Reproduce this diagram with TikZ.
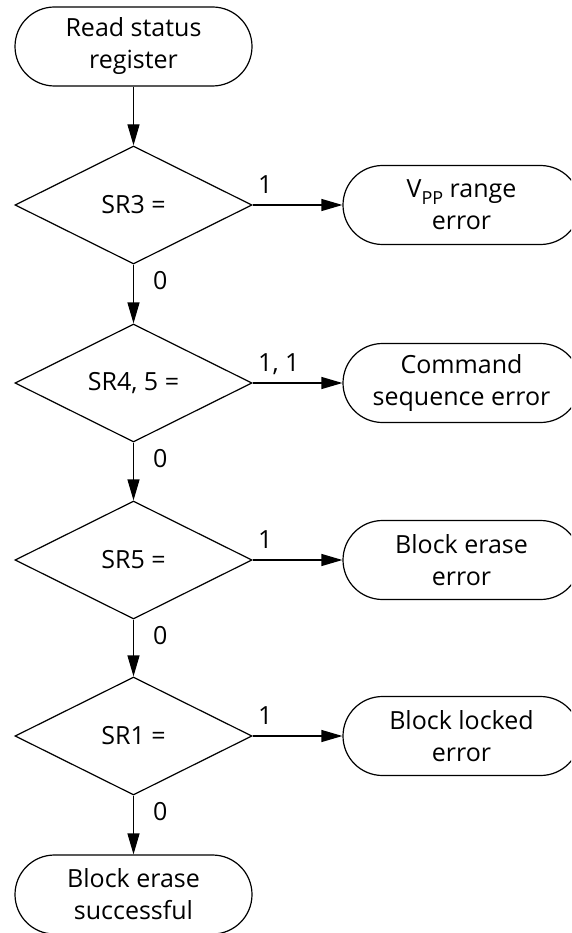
\documentclass[tikz,border=0pt]{standalone}
\usepackage{fontspec}
\setmainfont{Open Sans}
\usetikzlibrary{shapes.geometric,arrows.meta}
\begin{document}
\begin{tikzpicture}[x=1pt,y=-1pt,
  every node/.style={font=\fontsize{25}{32}\selectfont},
  term/.style={draw, line width=1.2pt, rectangle, rounded corners=39.5pt,
    minimum width=237pt, minimum height=79pt, align=center, inner sep=0pt},
  dec/.style={draw, line width=1.2pt, diamond, minimum width=237pt,
    minimum height=118pt, inner sep=0pt},
  arr/.style={line width=1.2pt, -{Triangle[length=21pt,width=12pt]}},
  zlbl/.style={inner sep=0pt, anchor=base west, xshift=19pt, yshift=-24.5pt},
  olbl/.style={inner sep=0pt, anchor=base west, xshift=5pt, yshift=11.5pt}
]
\clip (0,0) rectangle (571,933);
% left column
\node[term] (start) at (133.5,46.5) {Read status\\register};
\node[dec] (d1) at (133.5,205) {SR3 =};
\node[dec] (d2) at (133.5,383) {SR4, 5 =};
\node[dec] (d3) at (133.5,560) {SR5 =};
\node[dec] (d4) at (133.5,736) {SR1 =};
\node[term] (ok) at (133.5,894.5) {Block erase\\successful};
% right column
\node[term] (e1) at (461.5,205) {V\raisebox{-7pt}{\fontsize{18}{18}\selectfont PP} range\\error};
\node[term] (e2) at (461.5,383) {Command\\sequence error};
\node[term] (e3) at (461.5,560) {Block erase\\error};
\node[term] (e4) at (461.5,736) {Block locked\\error};
% vertical flow
\draw[arr] (start.south) -- (d1.north);
\draw[arr] (d1.south) -- node[at start, zlbl] {0} (d2.north);
\draw[arr] (d2.south) -- node[at start, zlbl] {0} (d3.north);
\draw[arr] (d3.south) -- node[at start, zlbl] {0} (d4.north);
\draw[arr] (d4.south) -- node[at start, zlbl] {0} (ok.north);
% horizontal flow
\draw[arr] (d1.east) -- node[at start, olbl] {1} (e1.west);
\draw[arr] (d2.east) -- node[at start, olbl] {1, 1} (e2.west);
\draw[arr] (d3.east) -- node[at start, olbl] {1} (e3.west);
\draw[arr] (d4.east) -- node[at start, olbl] {1} (e4.west);
\end{tikzpicture}
\end{document}
